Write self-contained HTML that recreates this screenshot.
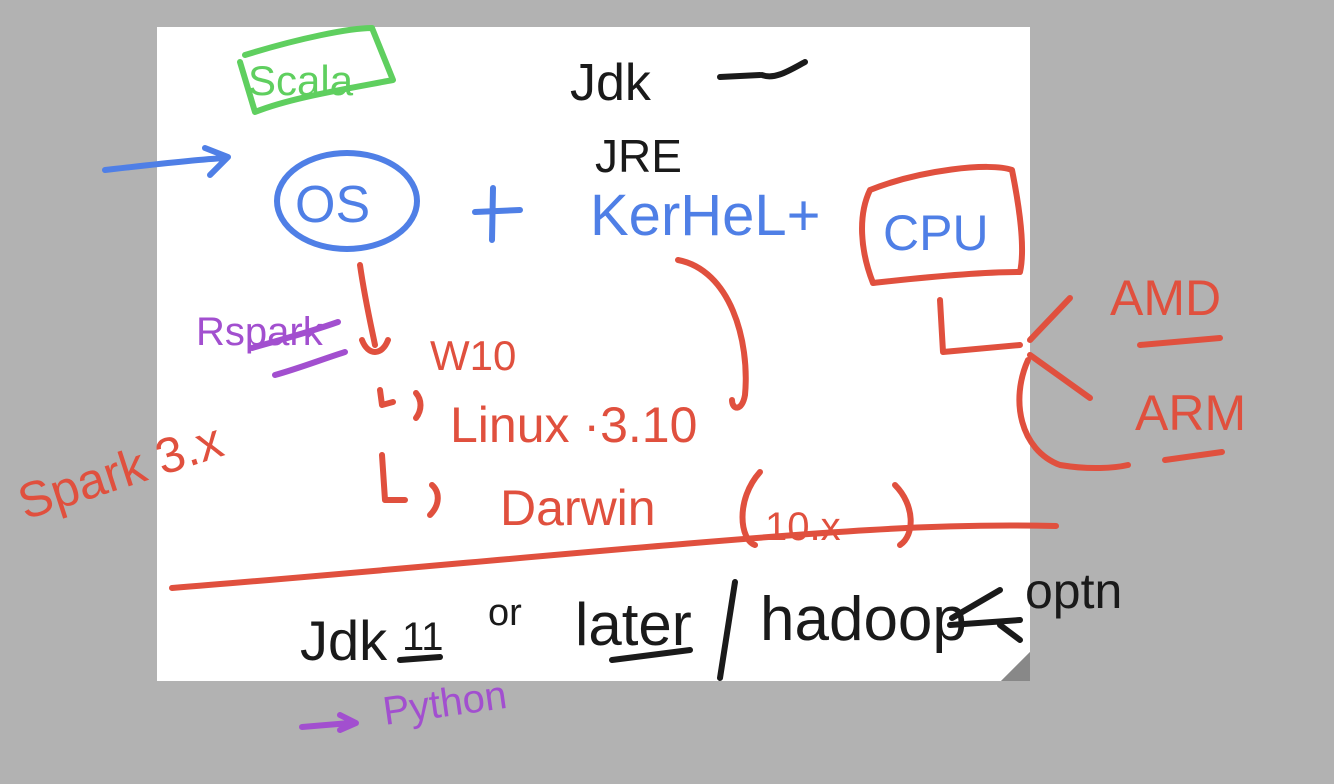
<!DOCTYPE html>
<html><head><meta charset="utf-8"><style>
html,body{margin:0;padding:0;background:#b2b2b2;}
svg{display:block}
text{font-family:"Liberation Sans",sans-serif;}
</style></head><body>
<svg width="1334" height="784" viewBox="0 0 1334 784" xmlns="http://www.w3.org/2000/svg">
<rect x="0" y="0" width="1334" height="784" fill="#b2b2b2"/>
<polygon points="157,27 1030,27 1030,652 1001,681 157,681" fill="#ffffff"/>
<polygon points="1001,681 1030,652 1030,681" fill="#888888"/>
<g fill="none" stroke-linecap="round" stroke-linejoin="round" stroke-width="6">
<path d="M245,55 C300,38 350,28 372,28 L393,80 C340,90 290,98 255,112 L240,62" stroke="#5fcf5f"/>
<path d="M105,170 C150,165 190,160 225,158 M205,148 L228,157 L210,175" stroke="#4f7fe6"/>
<ellipse cx="347" cy="201" rx="70" ry="48" stroke="#4f7fe6"/>
<path d="M475,212 L520,210 M493,188 L492,240" stroke="#4f7fe6"/>
<path d="M870,190 C920,170 990,162 1012,170 C1020,210 1025,250 1020,272 C970,272 900,280 873,283 C860,250 858,215 870,190" stroke="#e0503e"/>
<path d="M360,265 C365,300 372,330 375,345 M362,340 C368,356 382,356 388,340" stroke="#e0503e"/>
<path d="M678,260 C730,270 750,340 745,395 C742,412 732,410 732,400" stroke="#e0503e"/>
<path d="M380,390 L382,405 L393,402 M416,393 C422,400 422,410 416,418" stroke="#e0503e"/>
<path d="M382,455 L385,500 L405,500 M432,485 C440,492 440,505 430,515" stroke="#e0503e"/>
<path d="M760,472 C735,500 740,540 755,545 M895,485 C915,505 915,535 900,545" stroke="#e0503e"/>
<path d="M940,300 L943,352 L1020,345 M1030,340 L1070,298 M1030,355 L1090,398 M1028,360 C1010,400 1020,450 1060,465 C1090,470 1115,468 1128,465" stroke="#e0503e"/>
<path d="M1140,345 L1220,338 M1165,460 L1222,452" stroke="#e0503e"/>
<path d="M172,588 C400,570 700,540 870,530 C950,525 1010,525 1056,526" stroke="#e0503e"/>
<path d="M720,77 L760,75 M762,75 C775,80 790,70 805,62" stroke="#1a1a1a"/>
<path d="M735,582 L720,678 M952,618 L1000,590 M950,625 L1020,620 M1000,625 L1020,640" stroke="#1a1a1a"/>
<path d="M400,660 L440,657 M612,660 L690,650" stroke="#1a1a1a"/>
<path d="M252,348 C280,340 310,332 338,322 M275,375 C300,368 320,360 345,352" stroke="#a24fcf"/>
<path d="M302,727 L350,723 M340,715 L356,723 L340,730" stroke="#a24fcf"/>
</g>
<g>
<text x="248" y="95" font-size="42" fill="#5fcf5f">Scala</text>
<text x="570" y="100" font-size="52" fill="#1a1a1a">Jdk</text>
<text x="595" y="172" font-size="46" fill="#1a1a1a">JRE</text>
<text x="295" y="222" font-size="52" fill="#4f7fe6">OS</text>
<text x="590" y="235" font-size="58" fill="#4f7fe6">KerHeL+</text>
<text x="883" y="250" font-size="50" fill="#4f7fe6">CPU</text>
<text x="196" y="345" font-size="40" fill="#a24fcf">Rspark</text>
<text x="430" y="370" font-size="42" fill="#e0503e">W10</text>
<text x="450" y="442" font-size="50" fill="#e0503e">Linux ·3.10</text>
<text x="500" y="525" font-size="50" fill="#e0503e">Darwin</text>
<text x="765" y="540" font-size="40" fill="#e0503e">10.x</text>
<text x="25" y="520" font-size="50" fill="#e0503e" transform="rotate(-18 25 520)">Spark 3.x</text>
<text x="1110" y="315" font-size="50" fill="#e0503e">AMD</text>
<text x="1135" y="430" font-size="50" fill="#e0503e">ARM</text>
<text x="300" y="660" font-size="56" fill="#1a1a1a">Jdk</text>
<text x="402" y="650" font-size="40" fill="#1a1a1a">11</text>
<text x="488" y="625" font-size="38" fill="#1a1a1a">or</text>
<text x="575" y="645" font-size="60" fill="#1a1a1a">later</text>
<text x="760" y="640" font-size="62" fill="#1a1a1a">hadoop</text>
<text x="1025" y="608" font-size="50" fill="#1a1a1a">optn</text>
<text x="385" y="725" font-size="40" fill="#a24fcf" transform="rotate(-8 385 725)">Python</text>
</g>
</svg>
</body></html>
